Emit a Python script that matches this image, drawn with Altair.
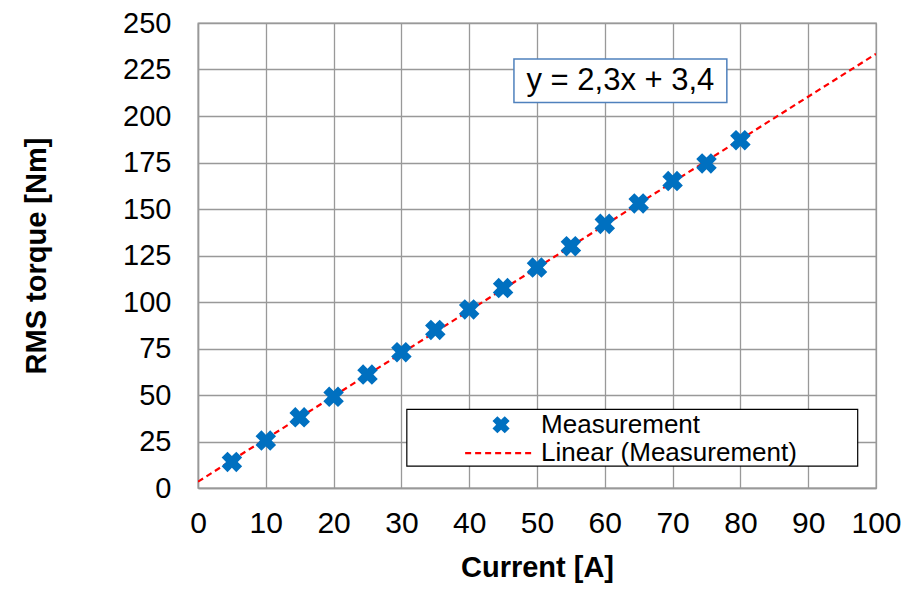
import altair as alt
import pandas as pd

current = [5, 10, 15, 20, 25, 30, 35, 40, 45, 50, 55, 60, 65, 70, 75, 80]
torque = [14, 25.5, 38, 49, 61, 73, 85, 96, 107.5, 118.5, 130, 142, 153, 165, 174.5, 187]
slope = 2.3
intercept = 3.4
trend_x = [0, 100]
x_ticks = list(range(0, 101, 10))
y_ticks = list(range(0, 251, 25))

FONT = "Liberation Sans"
BLUE = "#0070C0"
RED = "#FF0000"

meas = pd.DataFrame({"x": current, "y": torque})
trend = pd.DataFrame({"x": trend_x, "y": [slope * v + intercept for v in trend_x]})

xs = alt.Scale(domain=[0, 100], nice=False)
ys = alt.Scale(domain=[0, 250], nice=False)

x_axis = alt.Axis(values=x_ticks, title="Current [A]", grid=True, ticks=False,
                  labelFontSize=30, titleFontSize=29, titleFontWeight="bold",
                  labelPadding=20, titlePadding=15, labelColor="black", titleColor="black",
                  domainColor="#999999", domainWidth=1.5, gridColor="#999999", gridWidth=1.3,
                  labelFont=FONT, titleFont=FONT, labelFlush=False, labelOverlap=False)
y_axis = alt.Axis(values=y_ticks, title="RMS torque [Nm]", grid=True, ticks=False,
                  labelFontSize=29, titleFontSize=29, titleFontWeight="bold",
                  labelPadding=27, titlePadding=71, labelColor="black", titleColor="black",
                  domainColor="#999999", domainWidth=1.5, gridColor="#999999", gridWidth=1.3,
                  labelFont=FONT, titleFont=FONT, labelFlush=False, labelOverlap=False)

base_grid = alt.Chart(meas).mark_point(opacity=0).encode(
    x=alt.X("x:Q", scale=xs, axis=x_axis),
    y=alt.Y("y:Q", scale=ys, axis=y_axis),
)

trend_line = alt.Chart(trend).mark_line(color=RED, strokeDash=[6, 4], strokeWidth=2.2, clip=True).encode(
    x=alt.X("x:Q", scale=xs), y=alt.Y("y:Q", scale=ys)
)

points = alt.Chart(meas).mark_point(shape="cross", angle=45, filled=True, size=430,
                                    color=BLUE, opacity=1).encode(
    x=alt.X("x:Q", scale=xs), y=alt.Y("y:Q", scale=ys)
)

# equation box
eq_box = pd.DataFrame({"x": [46.6], "x2": [78.0], "y": [207.2], "y2": [230.7]})
eq_rect = alt.Chart(eq_box).mark_rect(fill="white", stroke="#4F81BD", strokeWidth=1.5).encode(
    x=alt.X("x:Q", scale=xs), x2="x2", y=alt.Y("y:Q", scale=ys), y2="y2"
)
eq_text = alt.Chart(pd.DataFrame({"x": [62.3], "y": [219.0], "t": ["y = 2,3x + 3,4"]})).mark_text(
    font=FONT, fontSize=31, color="black", align="center", baseline="middle"
).encode(x=alt.X("x:Q", scale=xs), y=alt.Y("y:Q", scale=ys), text="t:N")

# legend
leg_box = pd.DataFrame({"x": [30.8], "x2": [97.3], "y": [11.8], "y2": [42.3]})
leg_rect = alt.Chart(leg_box).mark_rect(fill="white", stroke="black", strokeWidth=1.2).encode(
    x=alt.X("x:Q", scale=xs), x2="x2", y=alt.Y("y:Q", scale=ys), y2="y2"
)
leg_pt = alt.Chart(pd.DataFrame({"x": [44.7], "y": [34.0]})).mark_point(
    shape="cross", angle=45, filled=True, size=300, color=BLUE, opacity=1
).encode(x=alt.X("x:Q", scale=xs), y=alt.Y("y:Q", scale=ys))
leg_line = alt.Chart(pd.DataFrame({"x": [39.4, 49.6], "y": [18.7, 18.7]})).mark_line(
    color=RED, strokeDash=[6, 4], strokeWidth=2.2
).encode(x=alt.X("x:Q", scale=xs), y=alt.Y("y:Q", scale=ys))
leg_text = alt.Chart(pd.DataFrame({"x": [50.6, 50.6], "y": [34.0, 18.7],
                                   "t": ["Measurement", "Linear (Measurement)"]})).mark_text(
    font=FONT, fontSize=26, color="black", align="left", baseline="middle"
).encode(x=alt.X("x:Q", scale=xs), y=alt.Y("y:Q", scale=ys), text="t:N")

chart = alt.layer(base_grid, trend_line, points, eq_rect, eq_text,
                  leg_rect, leg_pt, leg_line, leg_text).properties(
    width=678, height=465,
    autosize=alt.AutoSizeParams(type="none"),
    padding={"left": 190, "top": 15, "right": 28, "bottom": 96},
).configure_view(stroke="#999999", strokeWidth=1.3)

chart.save("out.html", embed_options={"renderer": "svg", "actions": False})
